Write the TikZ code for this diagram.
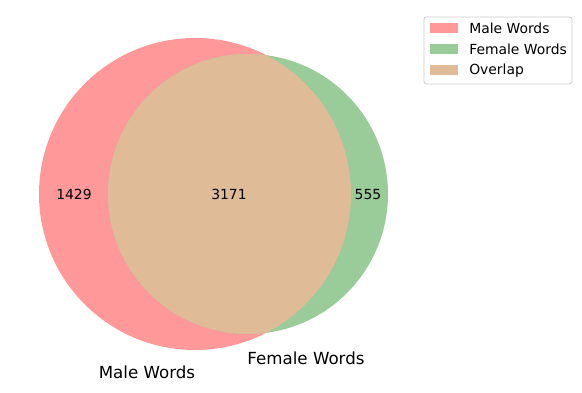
\documentclass[tikz,border=0pt]{standalone}
\usepackage{fontspec}
\setmainfont{DejaVu Sans}
\definecolor{malec}{HTML}{FF9999}
\definecolor{femc}{HTML}{99CC99}
\definecolor{ovc}{HTML}{E0BB98}
\definecolor{legedge}{HTML}{CCCCCC}
\tikzset{
  num/.style={inner sep=0pt, font=\fontsize{10}{12}\selectfont},
  setlabel/.style={inner sep=0pt, font=\fontsize{12}{14}\selectfont},
  legtext/.style={inner sep=0pt, anchor=west, font=\fontsize{10}{12}\selectfont},
  patch/.style={minimum width=28*0.72pt, minimum height=10*0.72pt, inner sep=0pt, draw=none}
}
\begin{document}
\begin{tikzpicture}[x=0.72pt,y=-0.72pt]
\useasboundingbox (0,0) rectangle (582,393);
% circles
\fill[malec] (195,194) circle (156);
\fill[femc] (248,194) circle (140);
\begin{scope}
  \clip (195,194) circle (156);
  \fill[ovc] (248,194) circle (140);
\end{scope}
% counts
\node[num] (n1) at (74,194.5) {1429};
\node[num] (n2) at (229,194.5) {3171};
\node[num] (n3) at (368,194.5) {555};
% set labels
\node[setlabel] (lm) at (147,372) {Male Words};
\node[setlabel] (lf) at (306,358) {Female Words};
% legend
\draw[legedge, fill=white, rounded corners=2.5*0.72pt, line width=0.6pt] (424,17) rectangle (572,84);
\node[patch, fill=malec] (p1) at (444,28) {};
\node[patch, fill=femc] (p2) at (444,49) {};
\node[patch, fill=ovc] (p3) at (444,70) {};
\node[legtext] (t1) at (469,28.5) {Male Words};
\node[legtext] (t2) at (469,49.5) {Female Words};
\node[legtext] (t3) at (469,70.5) {Overlap};
\end{tikzpicture}
\end{document}
